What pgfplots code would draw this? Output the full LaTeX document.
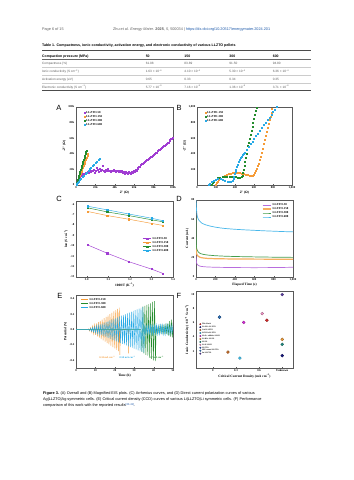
\documentclass[border=0pt]{standalone}
\usepackage{fontspec}
\setmainfont{Liberation Sans}
\newfontfamily\cf{Liberation Serif}
\usepackage{pgfplots}
\pgfplotsset{compat=1.18}
\definecolor{cpur}{RGB}{160,60,210}
\definecolor{cora}{RGB}{245,155,55}
\definecolor{cgre}{RGB}{35,140,45}
\definecolor{cblu}{RGB}{40,170,230}
\definecolor{lnk}{RGB}{30,90,170}
\definecolor{txtg}{RGB}{95,95,95}
\definecolor{fred}{RGB}{220,40,40}
\definecolor{fnavy}{RGB}{20,20,130}
\definecolor{fbrown}{RGB}{200,110,40}
\definecolor{fcyan}{RGB}{60,190,235}
\definecolor{fmag}{RGB}{220,40,220}
\definecolor{fora}{RGB}{245,160,60}
\definecolor{fteal}{RGB}{30,140,130}
\definecolor{fpink}{RGB}{245,150,200}
\definecolor{fblue}{RGB}{40,90,200}
\definecolor{fsteel}{RGB}{50,120,190}
\definecolor{fpur}{RGB}{90,60,160}
\pgfplotsset{
  pan/.style={
    scale only axis, anchor=south west,
    /pgf/number format/assume math mode=true,
    tick label style={font=\cf\bfseries\fontsize{5.8}{6}\selectfont},
    label style={font=\cf\bfseries\fontsize{6.8}{7}\selectfont},
    legend style={font=\cf\bfseries\fontsize{6}{6.5}\selectfont, draw=none, fill=none, row sep=-1.5pt},
    legend cell align=left,
    axis line style={black!65, line width=0.6pt},
    tick style={black!65},
    major tick length=2.5pt,
    tick pos=left,
    xlabel style={yshift=2pt},
    ylabel style={yshift=-2pt},
  },
  fm/.style={only marks, mark=*, mark size=3pt, mark options={fill=#1, draw=#1!60!black, line width=0.5pt}},
}
\begin{document}
\begin{tikzpicture}[x=2pt,y=-2pt]
\path[use as bounding box, fill=white] (0,0) rectangle (353,480);
% header
\node[anchor=base west, font=\fontsize{7.6}{9}\selectfont, text=txtg, inner sep=0] at (42,30.5) {Page 6 of 15};
\node[anchor=base west, font=\fontsize{7.6}{9}\selectfont, text=txtg, inner sep=0] at (113,30.5) {Zhu et al. \textit{Energy Mater.} \textbf{2025}, \textit{5}, 500034 \textbar{} \textcolor{lnk}{https://dx.doi.org/10.20517/energymater.2024.201}};
% table
\node[anchor=base west, font=\bfseries\fontsize{7.2}{9}\selectfont, inner sep=0] at (42,46.7) {Table 1. Compactness, ionic conductivity, activation energy, and electronic conductivity of various LLZTO pellets};
\draw[line width=1.3pt, black!70] (42,50.8) -- (311,50.8);
\node[anchor=base west, font=\bfseries\fontsize{7}{9}\selectfont, inner sep=0] at (42,57.2) {Compaction pressure (MPa)};
\foreach \x/\t in {145.7/50,184.3/150,229.3/300,272.7/600}
  \node[anchor=base west, font=\bfseries\fontsize{7}{9}\selectfont, inner sep=0] at (\x,57.2) {\t};
\draw[line width=0.5pt, black!60] (42,59.5) -- (311,59.5);
\foreach \yy in {67.3,75.1,82.9} \draw[line width=0.3pt, black!20] (42,\yy) -- (311,\yy);
\draw[line width=1.3pt, black!70] (42,90.5) -- (311,90.5);
\begin{scope}[every node/.style={anchor=base west, font=\fontsize{6.3}{8}\selectfont, text=txtg, inner sep=0}]
\node at (42,65) {Compactness (\%)};
\node at (145.7,65) {61.08};
\node at (184.3,65) {83.89};
\node at (229.3,65) {91.50};
\node at (272.7,65) {94.80};
\node at (42,72.8) {Ionic conductivity (S cm\textsuperscript{−1})};
\node at (145.7,72.8) {1.63 × 10\textsuperscript{−6}};
\node at (184.3,72.8) {4.10 × 10\textsuperscript{−4}};
\node at (229.3,72.8) {5.30 × 10\textsuperscript{−4}};
\node at (272.7,72.8) {6.36 × 10\textsuperscript{−4}};
\node at (42,80.6) {Activation energy (eV)};
\node at (145.7,80.6) {0.65};
\node at (184.3,80.6) {0.33};
\node at (229.3,80.6) {0.34};
\node at (272.7,80.6) {0.35};
\node at (42,88.2) {Electronic conductivity (S cm\textsuperscript{−1})};
\node at (145.7,88.2) {5.77 × 10\textsuperscript{−9}};
\node at (184.3,88.2) {7.16 × 10\textsuperscript{−9}};
\node at (229.3,88.2) {1.36 × 10\textsuperscript{−8}};
\node at (272.7,88.2) {3.71 × 10\textsuperscript{−8}};
\end{scope}
% panel letters
\begin{scope}[every node/.style={font=\fontsize{15}{15}\selectfont, inner sep=0}]
\node at (59,108) {A};
\node at (179,108) {B};
\node at (59,199) {C};
\node at (179,199) {D};
\node at (60,296) {E};
\node at (179,296) {F};
\end{scope}
\coordinate (pA) at (76,185);
\coordinate (pB) at (197,185);
\coordinate (pC) at (76,277);
\coordinate (pD) at (196,277);
\coordinate (pE) at (76,368);
\coordinate (pF) at (196,368);
% ---------- A
\begin{axis}[pan, at={(pA)}, width=194pt, height=156pt,
  xmin=0, xmax=100, ymin=0, ymax=100,
  xtick={0,20,40,60,80,100}, xticklabels={0,20k,40k,60k,80k,100k},
  ytick={0,20,40,60,80,100}, yticklabels={0,20k,40k,60k,80k,100k},
  xlabel={Z' (Ω)}, ylabel={-Z'' (Ω)},
  legend style={at={(0.07,0.97)}, anchor=north west}]
\addplot[only marks, mark=square*, mark size=1pt, cpur] coordinates {
(0.3,1)(0.8,3)(1.5,5)(2,7)(2.5,8)(3,9.5)(4,10.5)(5,12)(6,13)(7,14)(8,14.5)(9,15)(10,16)(11,16)(12,17)(13,16.5)(14,18)(15,17)(16,19)(17,18)(18,20)(19,16.5)(20,19)(21,22)(22,20)(23,17)(24,21)(25,18)(26,20)(27,25)(28,19)(29,17)(30,20)(31,18)(32,19)(33,21)(34,18)(35,19)(36,17)(37,19)(38,18)(39,20)(40,19)(41,17)(42,18)(43,19)(44,17)(45,18)(46,17)(47,18)(48,16)(49,17)(50,15)(51,17)(52,16)(53,15)(54,17)(55,16)(56,15)(57,17)(58,16)(59,18)(60,17)(61,20)(62,19)(63,21)(64,22)(65,23)(66,24)(67,26)(68,27)(69,28)(70,29)(71,30)(72,31)(73,32)(74,32)(75,34)(76,35)(77,36)(78,37)(79,38)(80,39)(81,40)(82,42)(83,42)(84,44)(85,45)(86,46)(87,47)(88,48)(89,49)(90,50)(91,51)(92,52)(93,53)(94,55)(95,55)(96,57)(97,58)(98,59)(99,60)(100,61)};
\addlegendentry{LLZTO-50}
\addplot[only marks, mark=square*, mark size=1pt, cora] coordinates {
(0.2,0.5)(0.8,2.5)(1.5,5)(2.3,7.5)(3,10)(3.8,12.5)(4.5,15)(5.3,17.5)(6,20)(6.8,22.5)(7.6,25)(8.4,27.5)(9.2,30)(10,32.5)(10.8,35)(11.6,37.5)(12.4,40)};
\addlegendentry{LLZTO-150}
\addplot[only marks, mark=square*, mark size=1pt, cgre] coordinates {
(0.2,0.5)(0.6,2.5)(1.2,5)(1.8,7.5)(2.4,10)(3,12.5)(3.6,15)(4.2,17.5)(4.8,20)(5.4,22.5)(6,25)(6.6,27.5)(7.3,30)(7.9,32.5)(8.5,35)(9.1,37.5)(9.7,40)(10.3,42.5)(10.8,44)};
\addlegendentry{LLZTO-300}
\addplot[only marks, mark=square*, mark size=1pt, cblu] coordinates {
(0.2,0.5)(0.8,2)(1.5,3.5)(2.5,5)(3.5,6.5)(5,8.5)(6.5,10.5)(8,12.5)(9.5,14.5)(11,16.5)(12.5,18.5)(14,20.5)(15.5,22.5)(17,24.5)(18.5,26.5)(20,28.5)(21.5,30.5)(23,32.5)(24.5,34)};
\addlegendentry{LLZTO-600}
\end{axis}
% ---------- B
\begin{axis}[pan, at={(pB)}, width=190pt, height=156pt,
  xmin=0, xmax=1000, ymin=0, ymax=1000,
  xtick={0,200,400,600,800,1000}, ytick={200,400,600,800,1000},
  xlabel={Z' (Ω)}, ylabel={-Z'' (Ω)},
  legend style={at={(0.07,0.97)}, anchor=north west}]
\addplot[only marks, mark=square*, mark size=1pt, cora] coordinates {
(195,0)(205,25)(215,45)(230,65)(250,85)(270,105)(290,120)(310,135)(330,145)(350,150)(370,155)(390,158)(410,160)(430,158)(450,155)(470,150)(490,145)(510,138)(530,130)(550,125)(565,122)(580,125)(595,135)(610,155)(620,180)(630,210)(640,245)(650,280)(660,320)(670,370)(680,420)(690,470)(700,525)(710,580)(720,635)(730,690)(740,740)(750,790)(760,840)(770,880)(780,930)(790,975)};
\addlegendentry{LLZTO-150}
\addplot[only marks, mark=square*, mark size=1pt, cgre] coordinates {
(150,0)(160,25)(175,50)(195,75)(215,90)(240,100)(265,108)(290,112)(315,114)(340,114)(365,112)(390,110)(410,105)(430,100)(450,98)(465,105)(475,125)(485,160)(492,200)(498,250)(504,300)(510,350)(517,400)(525,450)(533,500)(542,550)(551,600)(560,650)(570,700)(580,750)(590,800)(600,850)(610,900)(620,950)(628,990)};
\addlegendentry{LLZTO-300}
\addplot[only marks, mark=square*, mark size=1pt, cblu] coordinates {
(125,0)(135,20)(150,40)(170,60)(195,75)(220,80)(245,78)(270,70)(295,60)(320,50)(340,45)(355,45)(370,55)(380,80)(388,110)(395,140)(402,170)(410,200)(420,235)(430,265)(440,295)(450,320)(460,345)(470,365)(480,385)(490,400)(500,420)(520,455)(540,490)(560,525)(580,560)(600,595)(620,630)(640,665)(660,700)(680,735)(700,770)(720,805)(740,840)(760,870)(780,905)(800,935)(820,970)(840,1000)};
\addlegendentry{LLZTO-600}
\end{axis}
% ---------- C
\begin{axis}[pan, at={(pC)}, width=194pt, height=152pt,
  xmin=2.95, xmax=3.4, ymin=-13, ymax=-5.7,
  xtick={3.0,3.1,3.2,3.3,3.4}, ytick={-13,-12,-11,-10,-9,-8,-7,-6},
  xticklabel style={/pgf/number format/.cd, fixed, fixed zerofill, precision=1},
  xlabel={1000/T (K\textsuperscript{−1})}, ylabel={lnσ (S cm\textsuperscript{−1})},
  legend style={at={(0.98,0.55)}, anchor=north east}]
\addplot[cpur, line width=0.9pt, mark=square*, mark size=1.2pt] coordinates {(3.003,-9.91)(3.095,-10.72)(3.195,-11.53)(3.300,-12.24)(3.354,-12.66)};
\addlegendentry{LLZTO-50}
\addplot[cora, line width=0.9pt, mark=square*, mark size=1.2pt] coordinates {(3.003,-6.70)(3.095,-7.10)(3.195,-7.45)(3.300,-7.85)(3.354,-8.05)};
\addlegendentry{LLZTO-150}
\addplot[cgre, line width=0.9pt, mark=square*, mark size=1.2pt] coordinates {(3.003,-6.35)(3.095,-6.75)(3.195,-7.10)(3.300,-7.50)(3.354,-7.70)};
\addlegendentry{LLZTO-300}
\addplot[cblu, line width=0.9pt, mark=square*, mark size=1.2pt] coordinates {(3.003,-6.20)(3.095,-6.55)(3.195,-6.95)(3.300,-7.35)(3.354,-7.60)};
\addlegendentry{LLZTO-600}
\end{axis}
% ---------- D
\begin{axis}[pan, at={(pD)}, width=194pt, height=154pt,
  xmin=0, xmax=1000, ymin=0, ymax=80,
  xtick={0,200,400,600,800,1000}, ytick={0,20,40,60,80},
  xlabel={Elapsed Time (s)}, ylabel={Current (nA)},
  legend style={at={(0.98,0.98)}, anchor=north east}]
\addplot[cpur!75, line width=1.4pt] coordinates {(0,22)(2,18)(4,16)(7,14.5)(10,13.5)(20,12.3)(35,11.5)(50,11.1)(80,10.7)(120,10.4)(200,10.1)(400,9.8)(600,9.7)(800,9.8)(1000,10.1)};
\addlegendentry{LLZTO-50}
\addplot[cora!80, line width=2.4pt] coordinates {(0,33)(1,29)(3,26.5)(6,24.5)(10,23.2)(20,21.8)(35,20.8)(50,20.2)(80,19.7)(120,19.3)(200,19)(400,18.7)(600,18.6)(800,18.5)(1000,18.5)};
\addlegendentry{LLZTO-150}
\addplot[cgre!85, line width=1.4pt] coordinates {(0,62)(1,45)(2,38)(4,33)(7,30)(10,28.5)(20,26.5)(35,25)(50,24.2)(80,23.4)(120,22.8)(200,22.1)(300,21.6)(400,21.3)(600,20.9)(800,20.6)(1000,20.4)};
\addlegendentry{LLZTO-300}
\addplot[cblu!85, line width=1.4pt] coordinates {(0,80)(3,74)(6,69)(10,65)(15,62.5)(20,61)(30,59)(45,57.3)(60,56)(80,55)(100,54.2)(150,52.8)(200,51.8)(250,51)(300,50.4)(400,49.6)(500,49)(600,48.5)(700,48)(800,47.6)(900,47.2)(1000,46.9)};
\addlegendentry{LLZTO-600}
\end{axis}
% ---------- E
\begin{axis}[pan, at={(pE)}, width=194pt, height=146pt,
  xmin=0, xmax=50, ymin=-0.5, ymax=0.45,
  xtick={0,10,20,30,40,50}, ytick={-0.4,-0.2,0,0.2,0.4},
  yticklabel style={/pgf/number format/.cd, fixed, fixed zerofill, precision=1},
  xlabel={Time (h)}, ylabel={Potential (V)},
  legend style={at={(0.03,0.98)}, anchor=north west},
  legend image code/.code={\draw[#1, line width=2.2pt] (0cm,0cm) -- (0.5cm,0cm);}]
\addplot[cora, line width=0.8pt] coordinates {(0,0)(6,0)(6.5,0.009)(7,-0.018)(7.5,0.026)(8,-0.035)(8.5,0.044)(9,-0.053)(9.5,0.061)(10,-0.070)(10.5,0.079)(11,-0.088)(11.5,0.096)(12,-0.105)(12.5,0.114)(13,-0.123)(13.5,0.131)(14,-0.140)(14.5,0.149)(15,-0.158)(15.5,0.166)(16,-0.175)(16.5,0.184)(17,-0.193)(17.5,0.201)(18,-0.210)(18.5,0.219)(19,-0.228)(19.5,0.236)(20,-0.245)(20.5,0.254)(21,-0.263)(21.5,0.271)(22,-0.28)(22.3,0.285)(22.6,-0.33)(22.9,0)(26.9,0)(27,-0.31)(27.1,0)};
\addlegendentry{LLZTO-150}
\addplot[cgre, line width=0.8pt] coordinates {(0,0)(33.5,0)(34,-0.29)(34.5,0.30)(35,-0.31)(35.5,0.31)(36,-0.33)(36.5,0.32)(37,-0.34)(37.5,0.33)(38,-0.36)(38.5,0.34)(39,-0.38)(39.5,0.36)(40,-0.40)(40.5,0.37)(41,-0.41)(41.3,0.05)(41.8,-0.05)(42.3,0.04)(42.8,-0.05)(43.3,0.05)(43.8,-0.04)(44.3,0.05)(44.8,-0.05)(45.3,0.05)(45.8,-0.05)(46.3,0.06)(46.8,-0.06)(47.3,0.08)(47.8,-0.08)(48.3,0.11)(48.8,-0.09)(49.3,0.13)(49.8,-0.10)(50,0)};
\addlegendentry{LLZTO-300}
\addplot[cblu, line width=0.8pt] coordinates {(0,0)(6,0)(6.5,0.005)(7,-0.010)(7.5,0.016)(8,-0.021)(8.5,0.026)(9,-0.031)(9.5,0.036)(10,-0.041)(10.5,0.047)(11,-0.052)(11.5,0.057)(12,-0.062)(12.5,0.067)(13,-0.072)(13.5,0.078)(14,-0.083)(14.5,0.088)(15,-0.093)(15.5,0.098)(16,-0.103)(16.5,0.109)(17,-0.114)(17.5,0.119)(18,-0.124)(18.5,0.129)(19,-0.134)(19.5,0.140)(20,-0.145)(20.5,0.150)(21,-0.155)(21.5,0.160)(22,-0.165)(22.5,0.171)(23,-0.176)(23.5,0.181)(24,-0.186)(24.5,0.191)(25,-0.196)(25.5,0.202)(26,-0.207)(26.5,0.212)(27,-0.217)(27.5,0.222)(28,-0.227)(28.5,0.233)(29,-0.238)(29.5,0.243)(30,-0.248)(30.5,0.253)(31,-0.258)(31.5,0.264)(32,-0.269)(32.5,0.274)(33,-0.279)(33.5,0.284)(34,-0.289)(34.5,0.295)(35,-0.30)(35.5,0.06)(36,-0.06)(36.5,0.05)(37,-0.06)(37.5,0.06)(38,-0.05)(38.5,0.06)(39,-0.06)(39.5,0.05)(40,-0.06)(40.5,0.06)(41,-0.05)(41.5,0.06)(42,-0.06)(42.5,0.05)(43,-0.06)(43.5,0.06)(44,-0.05)(44.5,0.06)(45,-0.06)(45.5,0.05)(46,-0.06)(46.5,0.06)(47,-0.05)(47.5,0.06)(48,-0.06)(48.5,0.05)(49,-0.06)(49.5,0.06)(50,-0.05)};
\addlegendentry{LLZTO-600}
\node[font=\cf\bfseries\fontsize{5.2}{6}\selectfont, text=cora] at (axis cs:16,-0.36) {0.34 mA cm\textsuperscript{−2}};
\node[font=\cf\bfseries\fontsize{5.2}{6}\selectfont, text=cblu] at (axis cs:26.5,-0.36) {0.50 mA cm\textsuperscript{−2}};
\node[font=\cf\bfseries\fontsize{5.2}{6}\selectfont, text=cgre] at (axis cs:41.5,-0.36) {0.7 mA cm\textsuperscript{−2}};
\end{axis}
% ---------- F
\begin{axis}[pan, at={(pF)}, width=194pt, height=154pt,
  xmin=-0.22, xmax=1.04, ymin=-0.4, ymax=10.5,
  xtick={0,0.3,0.6,0.9}, xticklabels={0,0.3,0.6,Unknown},
  ytick={2,4,6,8,10},
  xlabel={Critical Current Density (mA cm\textsuperscript{−2})},
  ylabel={Ionic Conductivity (×10\textsuperscript{−4} S cm\textsuperscript{−1})},
  legend style={at={(0.02,0.61)}, anchor=north west, font=\cf\bfseries\fontsize{3.8}{4.2}\selectfont, row sep=-2.2pt},
  legend image code/.code={\draw[#1, mark size=1.6pt] plot coordinates {(0.12cm,0cm)};}]
\addplot[fm=fred] coordinates {(0.70,6.36)};
\addlegendentry{This Work}
\addplot[fm=fnavy] coordinates {(0.9,1.35)};
\addlegendentry{Li\textsubscript{2}SiO\textsubscript{3}-LLZTO}
\addplot[fm=fbrown] coordinates {(0.195,1.85)};
\addlegendentry{CuO-LLZTO}
\addplot[fm=fcyan] coordinates {(0.35,1.0)};
\addlegendentry{LiCl/Ga-LLZTO}
\addplot[fm=fmag] coordinates {(0.40,6.05)};
\addlegendentry{Al\textsubscript{2}O\textsubscript{3} additive LLZO}
\addplot[fm=fora] coordinates {(0.9,3.65)};
\addlegendentry{Li\textsubscript{3}BO\textsubscript{3}-LLZO}
\addplot[fm=fteal] coordinates {(0.9,2.95)};
\addlegendentry{LLZO}
\addplot[fm=fpink] coordinates {(0.64,7.3)};
\addlegendentry{Li\textsubscript{3}N-LLZO}
\addplot[fm=fblue] coordinates {(0.086,6.8)};
\addlegendentry{LLZTO}
\addplot[fm=fsteel] coordinates {(0.086,6.8)};
\addlegendentry{SPE-coated LLZTO}
\addplot[fm=fpur] coordinates {(0.9,10.0)};
\addlegendentry{Sn-LLZTO}
\end{axis}
% caption
\begin{scope}[every node/.style={anchor=base west, font=\fontsize{7.7}{9}\selectfont, inner sep=0}]
\node at (43,394.8) {\textbf{Figure 3.} (A) Overall and (B) Magnified EIS plots. (C) Arrhenius curves, and (D) Direct current polarization curves of various};
\node at (43,400.8) {Ag|LLZTO|Ag symmetric cells. (E) Critical current density (CCD) curves of various Li|LLZTO|Li symmetric cells. (F) Performance};
\node at (43,406.8) {comparison of this work with the reported results\textsuperscript{\textcolor{lnk}{[30-41]}}.};
\end{scope}
\end{tikzpicture}
\end{document}
